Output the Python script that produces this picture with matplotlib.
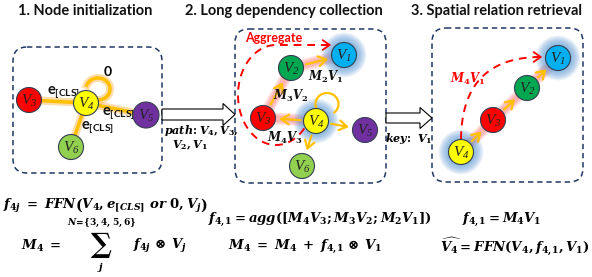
import numpy as np
import matplotlib
matplotlib.use("Agg")
import matplotlib.pyplot as plt
from matplotlib.patches import Circle, FancyBboxPatch, FancyArrow, FancyArrowPatch

plt.rcParams['mathtext.fontset'] = 'custom'
plt.rcParams['mathtext.rm'] = 'DejaVu Serif:bold'
plt.rcParams['mathtext.it'] = 'DejaVu Serif:italic:bold'
plt.rcParams['mathtext.bf'] = 'DejaVu Serif:bold'
plt.rcParams['mathtext.sf'] = 'Liberation Serif:italic'
plt.rcParams['mathtext.tt'] = 'Lato:bold'

# ---------------- data ----------------
titles = ["1. Node initialization", "2. Long dependency collection", "3. Spatial relation retrieval"]
title_x = [18, 185, 411]

node_colors = {"V1": "#00B0F0", "V2": "#00A650", "V3": "#FF0000", "V4": "#FFFF00",
               "V5": "#7030A0", "V6": "#92D050"}
# panel 1 nodes (x, y) in pixels
p1_nodes = {"V3": (29, 100), "V4": (86, 103), "V5": (146, 115), "V6": (71, 147)}
p1_edges = [("V3", "V4"), ("V4", "V5"), ("V4", "V6")]
# panel 2 nodes
p2_nodes = {"V1": (344, 55), "V2": (291, 68), "V3": (263, 118), "V4": (316, 121),
            "V5": (365, 130), "V6": (302, 166)}
p2_arrows = [("V2", "V1"), ("V3", "V2"), ("V4", "V3"), ("V4", "V5"), ("V4", "V6")]
p2_path = ["V4", "V3", "V2", "V1"]
p2_glow = ["V1", "V4"]
p2_labels = [(r"$M_2V_1$", 326, 77), (r"$M_3V_2$", 291, 96), (r"$M_4V_3$", 285, 138)]
# panel 3 nodes
p3_nodes = {"V1": (558, 58), "V2": (527, 88), "V3": (493, 120), "V4": (461, 152)}
p3_path = ["V4", "V3", "V2", "V1"]
p3_glow = ["V1", "V4"]

boxes = [(13, 47, 149, 126), (235, 29, 151, 154), (432, 28, 151, 154)]
R = 12.5

W, H = 592, 277
fig = plt.figure(figsize=(W / 100, H / 100), dpi=100)
ax = fig.add_axes([0, 0, 1, 1])
ax.set_xlim(0, W)
ax.set_ylim(H, 0)
ax.axis("off")

PX = 0.72  # points per pixel
NAVY = "#1F3864"
ORANGE = "#FFC000"


def node(x, y, name, glow=False, r=R):
    if glow:
        for k in np.linspace(10, 1, 10):
            ax.add_patch(Circle((x, y), r + k, color="#5B9BD5", alpha=0.10, lw=0, zorder=3))
    ax.add_patch(Circle((x, y), r, fc=node_colors[name], ec="#333F50", lw=0.8, zorder=5))
    ax.text(x, y + 1, r"$\mathsf{V}_{\mathsf{%s}}$" % name[1], ha="center", va="center",
            fontsize=11, color="#222222", zorder=6)


def red_glow(pts):
    xs = [p[0] for p in pts]
    ys = [p[1] for p in pts]
    for w in [12, 9, 6]:
        ax.plot(xs, ys, color="#FF5A5A", lw=w * PX, alpha=0.18, solid_capstyle="round", zorder=2)


def shrink(a, b, ra, rb):
    a = np.array(a, float); b = np.array(b, float)
    d = b - a; d /= np.hypot(*d)
    return a + d * ra, b - d * rb


def orange_arrow(a, b, ra=R, rb=R + 1):
    s, e = shrink(a, b, ra, rb)
    ax.add_patch(FancyArrowPatch(tuple(s), tuple(e), arrowstyle="->,head_length=0.55,head_width=0.35",
                                 mutation_scale=10, color=ORANGE, lw=1.6, zorder=4))


# titles
for t, x in zip(titles, title_x):
    ax.text(x, 11, t, fontsize=10.5, fontweight="bold", family="Lato", ha="left", va="center",
            color="#111111")

# dashed boxes
for (x, y, w, h) in boxes:
    ax.add_patch(FancyBboxPatch((x, y), w, h, boxstyle="round,pad=0,rounding_size=14",
                                fc="none", ec=NAVY, lw=1.1, ls=(0, (3.5, 2.5)), zorder=1))

# ---------- panel 1 ----------
for a, b in p1_edges:
    xa, ya = p1_nodes[a]; xb, yb = p1_nodes[b]
    ax.plot([xa, xb], [ya, yb], color="#FFB347", lw=8 * PX, alpha=0.45, solid_capstyle="round", zorder=2)
    ax.plot([xa, xb], [ya, yb], color=ORANGE, lw=3.5 * PX, solid_capstyle="round", zorder=3)
th = np.linspace(np.radians(200), np.radians(470), 80)
lx = 98 + 12 * np.cos(th)
ly = 89 + 11 * np.sin(th)
ax.plot(lx, ly, color="#FFB347", lw=8 * PX, alpha=0.45, zorder=2)
ax.plot(lx, ly, color=ORANGE, lw=3.5 * PX, zorder=3)
for name, (x, y) in p1_nodes.items():
    node(x, y, name, r=R + (0.5 if name == "V5" else 0))
ax.text(108, 72, "0", fontsize=10, fontweight="bold", family="Lato", ha="center", va="center")
for (x, y) in [(47, 93), (102, 114), (81, 128)]:
    ax.text(x, y, r"$\mathtt{e}_{\mathtt{[CLS]}}$", fontsize=10.5, ha="left", va="center", color="#111111")

# ---------- panel 2 ----------
red_glow([p2_nodes[n] for n in p2_path])
for a, b in p2_arrows:
    orange_arrow(p2_nodes[a], p2_nodes[b])
th = np.linspace(np.radians(150), np.radians(410), 80)
ax.plot(327 + 11.5 * np.cos(th), 104 + 11 * np.sin(th), color=ORANGE, lw=1.6, zorder=4)
for name, (x, y) in p2_nodes.items():
    node(x, y, name, glow=name in p2_glow)
for s, x, y in p2_labels:
    ax.text(x, y, s, fontsize=8.5, ha="center", va="center", color="#111111", zorder=7)
ax.text(274, 38, "Aggregate", fontsize=9, fontweight="bold", family="Lato", color="#FF0000",
        ha="center", va="center")
th = np.radians(np.linspace(42, 270, 120))
ex = list(276 + 38 * np.cos(th)) + [330]
ey = list(95 + 50 * np.sin(th)) + [45]
ax.plot(ex, ey, color="#FF0000", lw=1.4, ls=(0, (4, 3)), zorder=4)
ax.add_patch(FancyArrowPatch((322, 45), (334, 45), arrowstyle="->,head_length=0.5,head_width=0.35",
                             mutation_scale=10, color="#FF0000", lw=1.3, zorder=4))

# ---------- panel 3 ----------
red_glow([p3_nodes[n] for n in p3_path])
for a, b in zip(p3_path[:-1], p3_path[1:]):
    orange_arrow(p3_nodes[a], p3_nodes[b])
for name, (x, y) in p3_nodes.items():
    node(x, y, name, glow=name in p3_glow)
t = np.linspace(0, 1, 80)
P0, C, P2 = np.array([461, 139.0]), np.array([462, 57.0]), np.array([541, 57.0])
bz = (1 - t)[:, None] ** 2 * P0 + 2 * (t * (1 - t))[:, None] * C + (t ** 2)[:, None] * P2
ax.plot(bz[:, 0], bz[:, 1], color="#FF0000", lw=1.4, ls=(0, (4, 3)), zorder=4)
ax.add_patch(FancyArrowPatch((533, 57), (545, 57), arrowstyle="->,head_length=0.5,head_width=0.35",
                             mutation_scale=10, color="#FF0000", lw=1.3, zorder=4))
ax.text(468, 79, r"$M_4V_1$", fontsize=8.5, color="#FF0000", ha="center", va="center", zorder=7)

# ---------- block arrows ----------
ax.add_patch(FancyArrow(162, 114.5, 73, 0, width=11, head_width=22, head_length=12,
                        length_includes_head=True, fc="white", ec="black", lw=0.8, zorder=3))
ax.add_patch(FancyArrow(386, 118, 46, 0, width=10, head_width=21, head_length=12,
                        length_includes_head=True, fc="white", ec="black", lw=0.8, zorder=3))
ax.text(201, 130, r"$path\!:V_4,V_3,$", fontsize=8, ha="center", va="center")
ax.text(190, 145, r"$V_2,V_1$", fontsize=8, ha="center", va="center")
ax.text(409, 138, r"$key\!:\ V_1$", fontsize=8, ha="center", va="center")

# ---------- formulas ----------
FS = 9.5
ax.text(3, 206, r"$f_{4j}\;=\;FFN\left(V_4,e_{[CLS]}\ or\ 0,V_j\right)$", fontsize=FS, ha="left", va="center")
ax.text(102, 223, r"$N\!=\!\{3,4,5,6\}$", fontsize=6.5, ha="center", va="center")
ax.text(21, 246, r"$M_4\;=$", fontsize=FS, ha="left", va="center")
ax.text(101, 245, r"$\sum$", fontsize=20, ha="center", va="center")
ax.text(101, 267, r"$j$", fontsize=7, ha="center", va="center")
ax.text(133, 246, r"$f_{4j}\,\otimes\,V_j$", fontsize=FS, ha="left", va="center")
ax.text(208, 220, r"$f_{4,\!1}=agg([M_4V_3;M_3V_2;M_2V_1])$", fontsize=FS, ha="left", va="center")
ax.text(462, 220, r"$f_{4,\!1}=M_4V_1$", fontsize=FS, ha="left", va="center")
ax.text(228, 247, r"$M_4\;=\;M_4\;+\;f_{4,\!1}\,\otimes\,V_1$", fontsize=FS, ha="left", va="center")
ax.text(590, 247, r"$\widehat{V_4}=FFN(V_4,f_{4,\!1},V_1)$", fontsize=FS, ha="right", va="center")

fig.savefig("out.png", dpi=100)
